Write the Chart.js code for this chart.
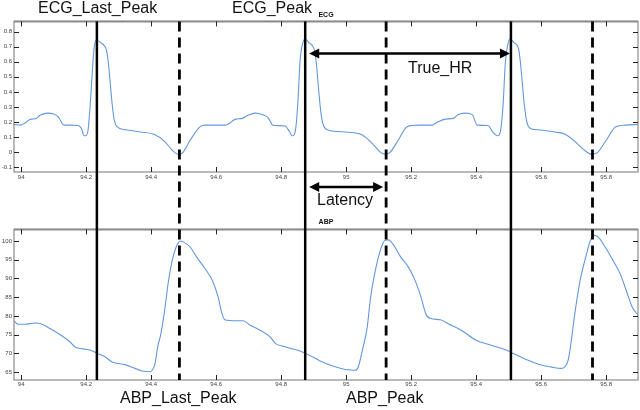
<!DOCTYPE html>
<html>
<head>
<meta charset="utf-8">
<script src="https://cdn.jsdelivr.net/npm/chart.js@4"></script>
<style>
  html, body { margin: 0; padding: 0; background: #fff; }
  #wrap { position: relative; width: 640px; height: 410px; overflow: hidden; }
  canvas { position: absolute; left: 0; }
  .note { position: absolute; font: 16px "Liberation Sans", Arial, sans-serif; line-height: 16px; color: #111; white-space: nowrap; }
</style>
</head>
<body>
<div id="wrap">
  <canvas id="ecg" width="640" height="200" style="top:0"></canvas>
  <canvas id="abp" width="640" height="210" style="top:200px"></canvas>
  <div class="note" style="left:38px; top:0px">ECG_Last_Peak</div>
  <div class="note" style="left:232px; top:0px">ECG_Peak</div>
  <div class="note" style="left:408px; top:60px">True_HR</div>
  <div class="note" style="left:317px; top:192px">Latency</div>
  <div class="note" style="left:120px; top:390px">ABP_Last_Peak</div>
  <div class="note" style="left:346px; top:390px">ABP_Peak</div>
</div>
<script>
// time axis (s)
const timeMin = 93.978;
const timeMax = 95.898;
const timeStep = 0.2;

// ECG trace
const ecgTime = [93.978, 93.997, 94.012, 94.03, 94.045, 94.058, 94.083, 94.098, 94.114, 94.132,
  94.151, 94.175, 94.185, 94.194, 94.200, 94.206, 94.212, 94.218, 94.224, 94.231,
  94.243, 94.256, 94.262, 94.268, 94.274, 94.280, 94.286, 94.295, 94.32, 94.366,
  94.412, 94.443, 94.465, 94.486, 94.498, 94.52, 94.551, 94.566, 94.628, 94.66,
  94.68, 94.698, 94.72, 94.742, 94.76, 94.775, 94.812, 94.825, 94.834, 94.840,
  94.846, 94.852, 94.858, 94.866, 94.874, 94.886, 94.898, 94.904, 94.910, 94.916,
  94.922, 94.930, 94.95, 94.997, 95.037, 95.05, 95.08, 95.105, 95.12, 95.135,
  95.16, 95.188, 95.222, 95.265, 95.28, 95.305, 95.33, 95.345, 95.366, 95.388,
  95.403, 95.437, 95.449, 95.465, 95.471, 95.477, 95.483, 95.490, 95.498, 95.505,
  95.517, 95.530, 95.536, 95.542, 95.548, 95.556, 95.566, 95.588, 95.643, 95.674,
  95.705, 95.73, 95.755, 95.774, 95.8, 95.83, 95.86, 95.898];
const ecgValue = [0.185, 0.18, 0.195, 0.22, 0.222, 0.245, 0.26, 0.255, 0.235, 0.18,
  0.18, 0.178, 0.16, 0.11, 0.112, 0.15, 0.3, 0.5, 0.68, 0.746,
  0.73, 0.705, 0.68, 0.6, 0.46, 0.32, 0.22, 0.17, 0.15, 0.135,
  0.117, 0.07, 0.013, -0.015, 0.0, 0.08, 0.17, 0.18, 0.18, 0.22,
  0.225, 0.245, 0.26, 0.25, 0.23, 0.18, 0.175, 0.14, 0.11, 0.115,
  0.18, 0.35, 0.6, 0.72, 0.75, 0.725, 0.7, 0.66, 0.55, 0.4,
  0.27, 0.18, 0.145, 0.135, 0.125, 0.115, 0.06, 0.002, -0.013, 0.0,
  0.08, 0.17, 0.18, 0.18, 0.2, 0.22, 0.225, 0.25, 0.26, 0.25,
  0.18, 0.178, 0.14, 0.11, 0.115, 0.17, 0.32, 0.6, 0.72, 0.75,
  0.725, 0.69, 0.6, 0.46, 0.32, 0.2, 0.16, 0.15, 0.135, 0.12,
  0.07, 0.02, -0.013, 0.0, 0.08, 0.17, 0.18, 0.185];

// ABP trace
const abpTime = [93.978, 93.99, 94.012, 94.043, 94.058, 94.09, 94.12, 94.15, 94.166, 94.18,
  94.212, 94.234, 94.258, 94.28, 94.32, 94.35, 94.372, 94.397, 94.403, 94.412,
  94.42, 94.43, 94.443, 94.452, 94.465, 94.477, 94.49, 94.5, 94.52, 94.54,
  94.566, 94.588, 94.606, 94.618, 94.628, 94.66, 94.683, 94.705, 94.735, 94.766,
  94.783, 94.806, 94.828, 94.849, 94.88, 94.92, 94.95, 94.997, 95.01, 95.028,
  95.037, 95.05, 95.065, 95.074, 95.09, 95.105, 95.12, 95.13, 95.143, 95.168,
  95.191, 95.212, 95.23, 95.245, 95.26, 95.29, 95.317, 95.354, 95.4, 95.446,
  95.492, 95.514, 95.554, 95.6, 95.63, 95.66, 95.67, 95.683, 95.69, 95.705,
  95.72, 95.737, 95.752, 95.763, 95.775, 95.797, 95.818, 95.843, 95.865, 95.88,
  95.898];
const abpValue = [78.7, 77.8, 77.8, 78.1, 78.0, 76.6, 75.0, 73.1, 71.7, 71.3,
  70.9, 70.0, 69.1, 67.7, 67.0, 66.0, 65.3, 65.1, 65.5, 67.3,
  71.7, 75.3, 82.4, 88.6, 94.9, 98.4, 100, 99.7, 98.4, 95.7,
  92.6, 89.5, 85.1, 80.6, 78.9, 78.7, 78.7, 77.5, 76.2, 74.4,
  72.6, 71.9, 71.4, 70.9, 69.8, 68.0, 66.9, 65.7, 65.6, 65.5,
  66.3, 70.9, 77.1, 84.2, 92.2, 97.5, 100.2, 100.3, 99.3, 95.7,
  93.1, 89.5, 85.1, 80.6, 79.3, 79.0, 77.8, 76.2, 73.5, 72.2,
  70.9, 70.0, 68.4, 66.9, 66.4, 66.0, 66.2, 68.2, 71.7, 81.5,
  89.5, 95.7, 100.2, 101.5, 101.1, 98.4, 95.3, 91.3, 86.0, 82.4,
  80.2];

// marker times
const ecgPeaks = [94.233, 94.874, 95.507];
const abpPeaks = [94.487, 95.123, 95.758];

const TOP_H = 200;
const FONT = '"Liberation Sans", Arial, sans-serif';
const LINE_BLUE = '#6397dc';

function pts(xs, ys) {
  return xs.map((t, i) => ({ x: t, y: ys[i] }));
}

function line(ctx, x1, y1, x2, y2) {
  ctx.beginPath();
  ctx.moveTo(x1, y1);
  ctx.lineTo(x2, y2);
  ctx.stroke();
}

function arrow(ctx, xa, xb, y) {
  const hl = 10, hw = 5;
  ctx.save();
  ctx.strokeStyle = '#000';
  ctx.fillStyle = '#000';
  ctx.lineWidth = 2.5;
  line(ctx, xa + hl - 1, y, xb - hl + 1, y);
  ctx.beginPath();
  ctx.moveTo(xa, y); ctx.lineTo(xa + hl, y - hw); ctx.lineTo(xa + hl, y + hw); ctx.closePath();
  ctx.fill();
  ctx.beginPath();
  ctx.moveTo(xb, y); ctx.lineTo(xb - hl, y - hw); ctx.lineTo(xb - hl, y + hw); ctx.closePath();
  ctx.fill();
  ctx.restore();
}

// box frame with inward ticks
const framePlugin = {
  id: 'frame',
  afterDatasetsDraw(chart) {
    const { ctx, chartArea: a, scales: { x, y } } = chart;
    ctx.save();
    ctx.strokeStyle = '#8c8c8c';
    ctx.lineWidth = 1.2;
    ctx.strokeRect(a.left, a.top, a.right - a.left, a.bottom - a.top);
    ctx.lineWidth = 2;
    line(ctx, a.left, a.top, a.right, a.top);
    ctx.strokeStyle = '#222';
    ctx.lineWidth = 1;
    x.ticks.forEach(t => {
      const px = Math.round(x.getPixelForValue(t.value)) + 0.5;
      line(ctx, px, a.top, px, a.top + 5);
      line(ctx, px, a.bottom, px, a.bottom - 5);
    });
    y.ticks.forEach(t => {
      const py = Math.round(y.getPixelForValue(t.value)) + 0.5;
      line(ctx, a.left, py, a.left + 5, py);
      line(ctx, a.right, py, a.right - 5, py);
    });
    ctx.restore();
  }
};

// peak marker lines running across both panels
function peakPlugin(isTop) {
  return {
    id: 'peaks',
    afterDraw(chart) {
      const { ctx, chartArea: a, scales: { x, y } } = chart;
      const y0 = isTop ? a.top : 0;
      const y1 = isTop ? chart.height : a.bottom;
      ctx.save();
      ctx.strokeStyle = '#000';
      ctx.lineWidth = 2.5;
      ecgPeaks.forEach(t => {
        const px = x.getPixelForValue(t);
        line(ctx, px, y0, px, y1);
      });
      ctx.lineWidth = 2.8;
      ctx.setLineDash([10, 6]);
      ctx.lineDashOffset = isTop ? 0 : (TOP_H - 21.4) % 16;
      abpPeaks.forEach(t => {
        const px = x.getPixelForValue(t);
        line(ctx, px, y0, px, y1);
      });
      ctx.restore();
      if (isTop) {
        const p1 = x.getPixelForValue(ecgPeaks[1]);
        const p2 = x.getPixelForValue(ecgPeaks[2]);
        const q1 = x.getPixelForValue(abpPeaks[1]);
        arrow(ctx, p1 + 4, p2 - 1, y.getPixelForValue(0.655));
        arrow(ctx, p1 + 4, q1 - 3, a.bottom + 15);
      }
    }
  };
}

function makeChart(id, title, xs, ys, yMin, yMax, yStep, isTop) {
  return new Chart(document.getElementById(id), {
    type: 'line',
    data: {
      datasets: [{
        data: pts(xs, ys),
        borderColor: LINE_BLUE,
        borderWidth: 1.1,
        pointRadius: 0,
        cubicInterpolationMode: 'monotone',
        fill: false
      }]
    },
    options: {
      responsive: false,
      animation: false,
      layout: { padding: { left: 0, right: 2, top: 0, bottom: 0 } },
      plugins: {
        legend: { display: false },
        tooltip: { enabled: false },
        title: {
          display: true,
          text: title,
          fullSize: false,
          color: '#111',
          font: { family: FONT, size: 7, weight: 'bold' },
          padding: isTop ? { top: 11, bottom: 2 } : { top: 18, bottom: 3 }
        }
      },
      scales: {
        x: {
          type: 'linear',
          min: timeMin,
          max: timeMax,
          grid: { display: false, drawTicks: false },
          border: { display: false },
          afterFit: s => { s.height = isTop ? 28 : 30; },
          ticks: {
            stepSize: timeStep,
            includeBounds: false,
            autoSkip: false,
            maxRotation: 0,
            minRotation: 0,
            padding: isTop ? 2 : 1,
            color: '#444',
            font: { family: FONT, size: 6 },
            callback: v => String(Number(v.toFixed(1)))
          }
        },
        y: {
          min: yMin,
          max: yMax,
          grid: { display: false, drawTicks: false },
          border: { display: false },
          afterFit: s => { s.width = 14; },
          ticks: {
            stepSize: yStep,
            includeBounds: false,
            padding: 2,
            color: '#444',
            font: { family: FONT, size: 6 },
            callback: v => String(Number(v.toFixed(1)))
          }
        }
      }
    },
    plugins: [framePlugin, peakPlugin(isTop)]
  });
}

makeChart('ecg', 'ECG', ecgTime, ecgValue, -0.13, 0.867, 0.1, true);
makeChart('abp', 'ABP', abpTime, abpValue, 62.9, 103.1, 5, false);
</script>
</body>
</html>
